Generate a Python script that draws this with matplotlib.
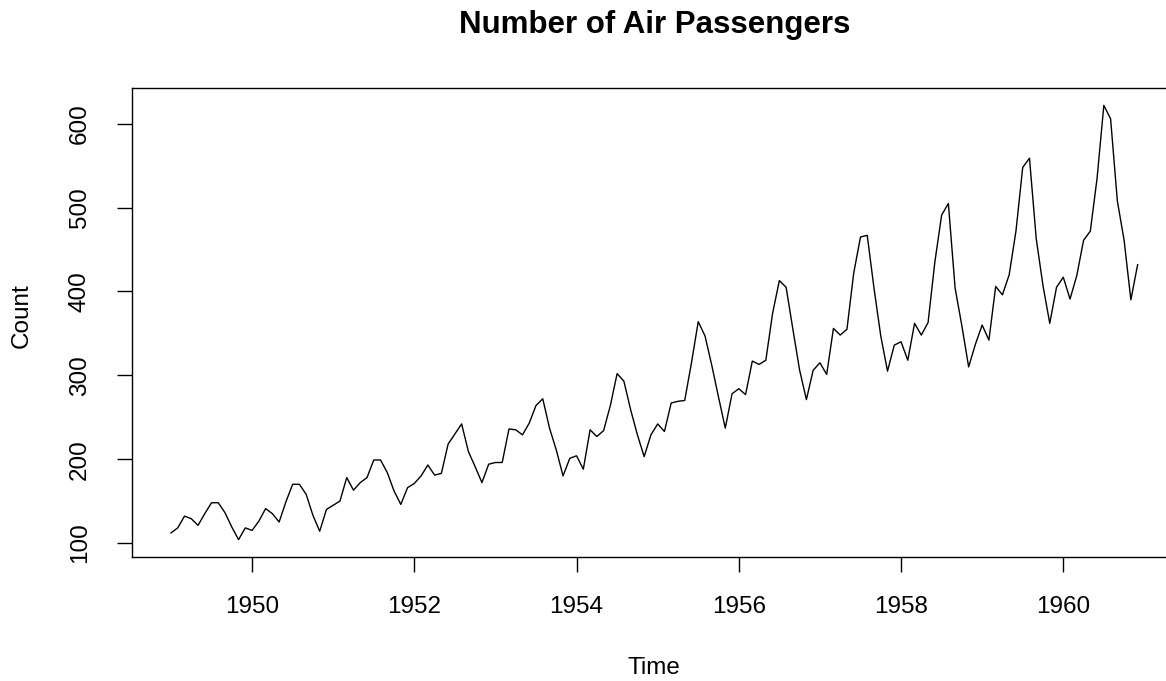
import numpy as np
import matplotlib
matplotlib.use("Agg")
import matplotlib.pyplot as plt

# Monthly totals of international airline passengers (thousands), 1949-1960
passengers_1949 = [112, 118, 132, 129, 121, 135, 148, 148, 136, 119, 104, 118]
passengers_1950 = [115, 126, 141, 135, 125, 149, 170, 170, 158, 133, 114, 140]
passengers_1951 = [145, 150, 178, 163, 172, 178, 199, 199, 184, 162, 146, 166]
passengers_1952 = [171, 180, 193, 181, 183, 218, 230, 242, 209, 191, 172, 194]
passengers_1953 = [196, 196, 236, 235, 229, 243, 264, 272, 237, 211, 180, 201]
passengers_1954 = [204, 188, 235, 227, 234, 264, 302, 293, 259, 229, 203, 229]
passengers_1955 = [242, 233, 267, 269, 270, 315, 364, 347, 312, 274, 237, 278]
passengers_1956 = [284, 277, 317, 313, 318, 374, 413, 405, 355, 306, 271, 306]
passengers_1957 = [315, 301, 356, 348, 355, 422, 465, 467, 404, 347, 305, 336]
passengers_1958 = [340, 318, 362, 348, 363, 435, 491, 505, 404, 359, 310, 337]
passengers_1959 = [360, 342, 406, 396, 420, 472, 548, 559, 463, 407, 362, 405]
passengers_1960 = [417, 391, 419, 461, 472, 535, 622, 606, 508, 461, 390, 432]

start_year = 1949
x_ticks = [1950, 1952, 1954, 1956, 1958, 1960]
y_ticks = [100, 200, 300, 400, 500, 600]

counts = np.concatenate([
    passengers_1949, passengers_1950, passengers_1951, passengers_1952,
    passengers_1953, passengers_1954, passengers_1955, passengers_1956,
    passengers_1957, passengers_1958, passengers_1959, passengers_1960,
])
time = start_year + np.arange(len(counts)) / 12.0

plt.rcParams['font.family'] = ['Liberation Sans', 'DejaVu Sans']

W, H = 1166, 681
fig = plt.figure(figsize=(W / 100, H / 100), dpi=100)
left, right, top, bottom = 132.3, 1176.3, 88, 557
ax = fig.add_axes([left / W, 1 - bottom / H, (right - left) / W, (bottom - top) / H])

ax.plot(time, counts, color='black', linewidth=1.0)

# 4% padding on each side, as in base R graphics
xr = time.max() - time.min()
yr = counts.max() - counts.min()
ax.set_xlim(time.min() - 0.04 * xr, time.max() + 0.04 * xr)
ax.set_ylim(counts.min() - 0.04 * yr, counts.max() + 0.04 * yr)

ax.set_xticks(x_ticks)
ax.set_yticks(y_ticks)
ax.set_xticklabels([str(t) for t in x_ticks])
ax.set_yticklabels([str(t) for t in y_ticks], rotation=90, va='center')

for s in ax.spines.values():
    s.set_linewidth(1.0)
    s.set_color('black')

ax.tick_params(axis='both', direction='out', length=11, width=1.0,
               labelsize=17.5, colors='black')
ax.tick_params(axis='x', pad=17)
ax.tick_params(axis='y', pad=19)

fig.text((left + right) / 2 / W, 1 - 25 / H, 'Number of Air Passengers',
         ha='center', va='center', fontsize=22.5, fontweight='bold')
fig.text((left + right) / 2 / W, 1 - 668 / H, 'Time',
         ha='center', va='center', fontsize=17.5)
fig.text(22 / W, 1 - 316 / H, 'Count', ha='center', va='center',
         fontsize=17.5, rotation=90)

fig.savefig('out.png', dpi=100)
